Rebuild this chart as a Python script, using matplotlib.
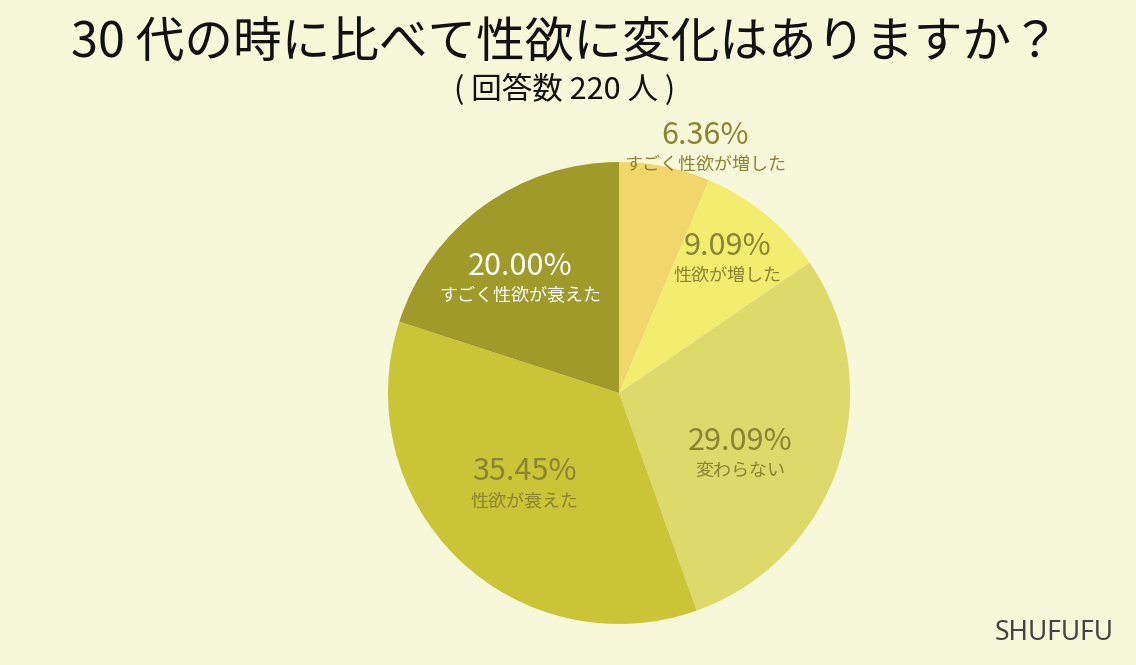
import numpy as np
import matplotlib.pyplot as plt

plt.rcParams['font.family'] = ['Noto Sans CJK JP', 'DejaVu Sans']

# data
labels = ['すごく性欲が増した', '性欲が増した', '変わらない', '性欲が衰えた', 'すごく性欲が衰えた']
values = [6.36, 9.09, 29.09, 35.45, 20.00]
colors = ['#F0D66B', '#F2EC6F', '#DDD96B', '#C9C536', '#9F9A29']
text_colors = ['#8A8433', '#8A8433', '#8A8433', '#8A8433', '#FFFFFF']
# label placement: (distance from centre in radii, angle offset in degrees)
label_pos = [(1.12, -8), (0.745, 0), (0.59, -9), (0.57, -1.5), (0.65, 5)]

bg = '#F7F7DA'
fig = plt.figure(figsize=(11.36, 6.65), dpi=100, facecolor=bg)

# pie centre at (619, 393) px, radius 231 px
cx, cy, r = 619, 393, 231
W, H = 1136, 665
ax = fig.add_axes([(cx - r) / W, (H - cy - r) / H, 2 * r / W, 2 * r / H])
ax.set_facecolor(bg)

wedges, _ = ax.pie(values, colors=colors, startangle=90, counterclock=False,
                   radius=1, wedgeprops=dict(linewidth=0))
ax.set_xlim(-1, 1)
ax.set_ylim(-1, 1)
ax.set_aspect('equal')
ax.axis('off')

for w, lab, v, tc, (d, off) in zip(wedges, labels, values, text_colors, label_pos):
    ang = np.deg2rad((w.theta1 + w.theta2) / 2 + off)
    x, y = d * np.cos(ang), d * np.sin(ang)
    ax.text(x, y - 0.01, f'{v:.2f}%', ha='center', va='bottom', fontsize=22,
            color=tc, clip_on=False)
    ax.text(x, y - 0.03, lab, ha='center', va='top', fontsize=13,
            color=tc, clip_on=False)

fig.text(565 / W, 1 - 44 / H, '30 代の時に比べて性欲に変化はありますか？', ha='center',
         va='center', fontsize=35, color='#111111')
fig.text(565 / W, 1 - 90 / H, '( 回答数 220 人 )', ha='center', va='center',
         fontsize=22, color='#111111')
fig.text(1054 / W, 1 - 633 / H, 'SHUFUFU', ha='center', va='center',
         fontsize=19, color='#444444', family=['Noto Sans', 'DejaVu Sans'])

fig.savefig('out.png', dpi=100, facecolor=bg)
